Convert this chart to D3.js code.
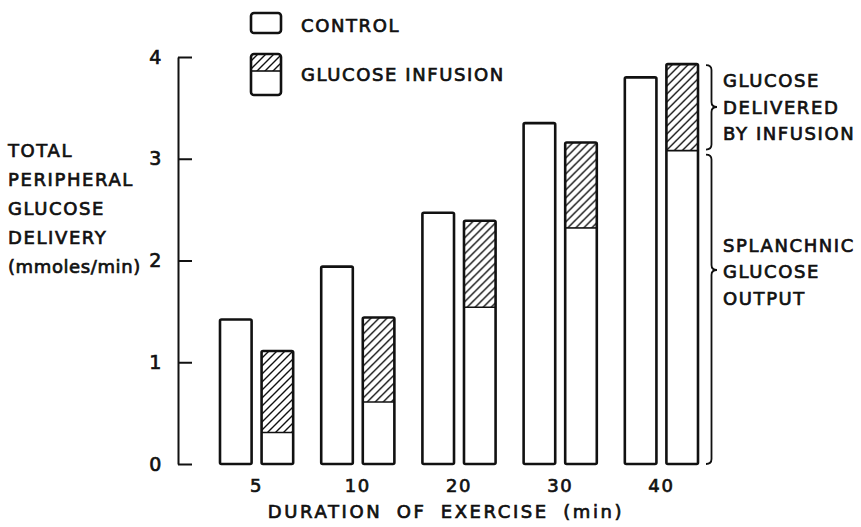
<!DOCTYPE html>
<html lang="en">
<head>
<meta charset="utf-8">
<title>Peripheral glucose delivery</title>
<script src="https://cdn.jsdelivr.net/npm/d3@7/dist/d3.min.js"></script>
<style>
  body { margin: 0; background: #fff; }
  svg text { font-family: "DejaVu Sans", sans-serif; fill: #111; stroke: #111; stroke-width: 0.7px; letter-spacing: 1.6px; }
  .axis path, .axis line { stroke: #111; stroke-width: 2px; }
  .axis text { font-size: 18px; }
</style>
</head>
<body>
<script>
// data
var durations = ["5", "10", "20", "30", "40"];
var control = [1.42, 1.94, 2.47, 3.35, 3.80];
var splanchnic = [0.31, 0.61, 1.54, 2.32, 3.08];   // lower (open) part of infusion bar
var infusionTotal = [1.11, 1.44, 2.39, 3.16, 3.93];
var yTicks = [0, 1, 2, 3, 4];
var yLabelLines = ["TOTAL", "PERIPHERAL", "GLUCOSE", "DELIVERY", "(mmoles/min)"];

var w = 861, h = 527;
var svg = d3.select("body").append("svg").attr("width", w).attr("height", h);
svg.append("rect").attr("width", w).attr("height", h).attr("fill", "#fff");

var defs = svg.append("defs");
var pat = defs.append("pattern")
    .attr("id", "hatch")
    .attr("patternUnits", "userSpaceOnUse")
    .attr("width", 8).attr("height", 8);
pat.append("rect").attr("width", 8).attr("height", 8).attr("fill", "#fff");
pat.append("path")
    .attr("d", "M-2,2 L2,-2 M0,8 L8,0 M6,10 L10,6")
    .attr("stroke", "#111").attr("stroke-width", 1.4);

var y = d3.scaleLinear().domain([0, 4]).range([464, 57]);
var x = d3.scaleBand().domain(durations).range([220, 698]).paddingInner(0.277).paddingOuter(0);
var xs = d3.scaleBand().domain(["control", "infusion"]).range([0, x.bandwidth()]).paddingInner(0.24);

var rows = durations.map(function (d, i) {
  return { dur: d, control: control[i], low: splanchnic[i], total: infusionTotal[i] };
});

var g = svg.selectAll(".grp").data(rows).enter().append("g")
    .attr("class", "grp")
    .attr("transform", function (d) { return "translate(" + x(d.dur) + ",0)"; });

// control bars
g.append("rect")
    .attr("x", xs("control"))
    .attr("y", function (d) { return y(d.control); })
    .attr("width", xs.bandwidth())
    .attr("height", function (d) { return y(0) - y(d.control); })
    .attr("rx", 1.5)
    .attr("fill", "#fff").attr("stroke", "#111").attr("stroke-width", 2.6);

// infusion bars: hatched upper part, divider, outline
g.append("rect")
    .attr("x", xs("infusion"))
    .attr("y", function (d) { return y(d.total); })
    .attr("width", xs.bandwidth())
    .attr("height", function (d) { return y(d.low) - y(d.total); })
    .attr("fill", "url(#hatch)");
g.append("line")
    .attr("x1", xs("infusion")).attr("x2", xs("infusion") + xs.bandwidth())
    .attr("y1", function (d) { return y(d.low); })
    .attr("y2", function (d) { return y(d.low); })
    .attr("stroke", "#111").attr("stroke-width", 1.6);
g.append("rect")
    .attr("x", xs("infusion"))
    .attr("y", function (d) { return y(d.total); })
    .attr("width", xs.bandwidth())
    .attr("height", function (d) { return y(0) - y(d.total); })
    .attr("rx", 1.5)
    .attr("fill", "none").attr("stroke", "#111").attr("stroke-width", 2.6);

// y axis, ticks pointing inward
var yAxis = d3.axisLeft(y).tickValues(yTicks).tickSizeInner(-14).tickSizeOuter(0).tickPadding(15)
    .tickFormat(d3.format("d"));
svg.append("g").attr("class", "axis")
    .attr("transform", "translate(178,0)")
    .call(yAxis)
    .call(function (a) { a.selectAll("text").attr("font-family", null).style("font-size", "19px"); });

// x category labels
var xAxis = d3.axisBottom(x).tickSize(0).tickPadding(15);
svg.append("g").attr("class", "axis")
    .attr("transform", "translate(0," + y(0) + ")")
    .call(xAxis)
    .call(function (a) { a.select(".domain").remove(); });

svg.append("text")
    .attr("x", 446).attr("y", 518)
    .attr("text-anchor", "middle")
    .attr("font-size", 18)
    .style("letter-spacing", "2.6px")
    .style("word-spacing", "6px")
    .text("DURATION OF EXERCISE (min)");

// y label block
svg.append("g").selectAll("text").data(yLabelLines).enter().append("text")
    .attr("x", 8)
    .attr("y", function (d, i) { return 157 + i * 29; })
    .attr("font-size", 18)
    .style("letter-spacing", function (d, i) { return i === 4 ? "0.6px" : null; })
    .text(function (d) { return d; });

// legend
var lg = svg.append("g").attr("transform", "translate(251,13)");
lg.append("rect").attr("width", 30).attr("height", 20).attr("rx", 3)
    .attr("fill", "#fff").attr("stroke", "#111").attr("stroke-width", 2.6);
lg.append("text").attr("x", 50).attr("y", 19).attr("font-size", 18).text("CONTROL");
lg.append("rect").attr("y", 41).attr("width", 30).attr("height", 17).attr("fill", "url(#hatch)");
lg.append("line").attr("x1", 0).attr("x2", 30).attr("y1", 58).attr("y2", 58)
    .attr("stroke", "#111").attr("stroke-width", 1.6);
lg.append("rect").attr("y", 41).attr("width", 30).attr("height", 41).attr("rx", 3)
    .attr("fill", "none").attr("stroke", "#111").attr("stroke-width", 2.6);
lg.append("text").attr("x", 50).attr("y", 68).attr("font-size", 18).text("GLUCOSE INFUSION");

// braces beside the 40-min infusion bar
function brace(x0, y0, y1, ym, bw) {
  var r = 5, xm = x0 + bw / 2;
  return "M" + x0 + "," + y0 + " Q" + xm + "," + y0 + " " + xm + "," + (y0 + r) +
         " L" + xm + "," + (ym - r) + " Q" + xm + "," + ym + " " + (x0 + bw) + "," + ym +
         " Q" + xm + "," + ym + " " + xm + "," + (ym + r) +
         " L" + xm + "," + (y1 - r) + " Q" + xm + "," + y1 + " " + x0 + "," + y1;
}
var last = rows[rows.length - 1];
var bx = x(last.dur) + x.bandwidth() + 8;
svg.append("path")
    .attr("d", brace(bx, y(last.total) + 1, y(last.low) - 1, 107, 11))
    .attr("fill", "none").attr("stroke", "#111").attr("stroke-width", 1.8);
svg.append("path")
    .attr("d", brace(bx, y(last.low) + 4, y(0), 270, 11))
    .attr("fill", "none").attr("stroke", "#111").attr("stroke-width", 1.8);

var notes = [["GLUCOSE", 87], ["DELIVERED", 114], ["BY INFUSION", 140],
             ["SPLANCHNIC", 252], ["GLUCOSE", 278], ["OUTPUT", 305]];
svg.append("g").selectAll("text").data(notes).enter().append("text")
    .attr("x", 723)
    .attr("y", function (d) { return d[1]; })
    .attr("font-size", 18)
    .text(function (d) { return d[0]; });
</script>
</body>
</html>
